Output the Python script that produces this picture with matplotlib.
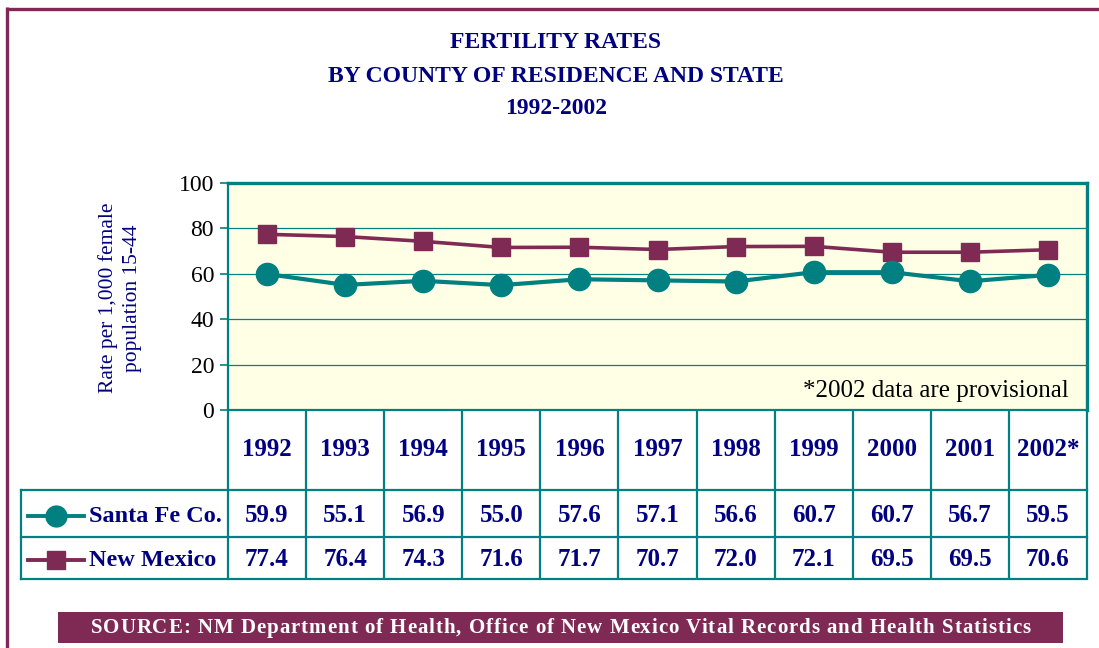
import matplotlib
matplotlib.use("Agg")
import matplotlib.pyplot as plt
import matplotlib.transforms as mtrans
from matplotlib.font_manager import FontProperties

# data
years = ["1992", "1993", "1994", "1995", "1996", "1997", "1998", "1999", "2000", "2001", "2002*"]
santa_fe = [59.9, 55.1, 56.9, 55.0, 57.6, 57.1, 56.6, 60.7, 60.7, 56.7, 59.5]
new_mexico = [77.4, 76.4, 74.3, 71.6, 71.7, 70.7, 72.0, 72.1, 69.5, 69.5, 70.6]
series_names = ["Santa Fe Co.", "New Mexico"]
y_ticks = [0, 20, 40, 60, 80, 100]

title_lines = ["FERTILITY RATES", "BY COUNTY OF RESIDENCE AND STATE", "1992-2002"]
ylabel = "Rate per 1,000 female\npopulation 15-44"
footnote = "*2002 data are provisional"
source = "SOURCE: NM Department of Health, Office of New Mexico Vital Records and Health Statistics"

TEAL = "#008080"
MAROON = "#7F2A55"
NAVY = "#000080"
PLOT_BG = "#FFFFE6"
SERIF = "Liberation Serif"

W, H = 1099, 648
fig = plt.figure(figsize=(W / 100, H / 100), dpi=100)
fig.patch.set_facecolor("white")

# overlay axes in pixel coordinates (y down)
ov = fig.add_axes([0, 0, 1, 1])
ov.set_xlim(0, W)
ov.set_ylim(H, 0)
ov.axis("off")

# plot area in pixels
L, R, T, B = 228, 1087, 183, 410
ax = fig.add_axes([L / W, (H - B) / H, (R - L) / W, (B - T) / H])
ax.set_facecolor(PLOT_BG)
x = list(range(len(years)))
ax.set_xlim(-0.5, len(years) - 0.5)
ax.set_ylim(0, 100)

ax.plot(x, new_mexico, color=MAROON, lw=2.6, marker="s", ms=13.5, zorder=3)
ax.plot(x, santa_fe, color=TEAL, lw=3.0, marker="o", ms=16, zorder=3)

ax.set_yticks(y_ticks)
ax.set_yticklabels([str(v) for v in y_ticks], fontfamily=SERIF, fontsize=17, color="black")
ax.tick_params(axis="y", length=6, width=1.2, color=TEAL, pad=4)
ax.set_xticks([])
ax.grid(axis="y", color=TEAL, lw=0.9)
ax.set_axisbelow(True)
for s, w in [("left", 1.6), ("bottom", 1.6), ("top", 2.4), ("right", 2.4)]:
    ax.spines[s].set_color(TEAL)
    ax.spines[s].set_linewidth(w)

ax.text(0.979, 0.035, footnote, transform=ax.transAxes, ha="right", va="bottom",
        fontfamily=SERIF, fontsize=18, color="black")

# y label
fig.text(120 / W, 1 - 298 / H, ylabel, rotation=90, ha="center", va="center",
         fontfamily=SERIF, fontsize=15.5, color=NAVY, linespacing=1.35)

# title
for i, line in enumerate(title_lines):
    ov.text(556, 43 + 33 * i, line, ha="center", va="center", fontfamily=SERIF,
            fontweight="bold", fontsize=17, color=NAVY)

# table: x from main axes data, y in pixels
tr = mtrans.blended_transform_factory(ax.transData, ov.transData)
row_y = [410, 490, 537, 579]
tl_left = 21
n = len(years)
for k in range(n + 1):
    ov.plot([k - 0.5, k - 0.5], [row_y[0], row_y[-1]], color=TEAL, lw=1.6,
            transform=tr, solid_capstyle="butt")
for yy in row_y[1:]:
    ov.plot([tl_left, R], [yy, yy], color=TEAL, lw=1.6)
ov.plot([tl_left, tl_left], [row_y[1], row_y[-1]], color=TEAL, lw=1.6)

for i, yr in enumerate(years):
    ov.text(i, 450, yr, transform=tr, ha="center", va="center", fontfamily=SERIF,
            fontweight="bold", fontsize=18, color=NAVY)
for vals, yy in [(santa_fe, 516), (new_mexico, 560)]:
    for i, v in enumerate(vals):
        ov.text(i, yy, f"{v:.1f}", transform=tr, ha="center", va="center", fontfamily=SERIF,
                fontweight="bold", fontsize=18, color=NAVY)

# legend cells
for name, col, mk, ms, yy in [(series_names[0], TEAL, "o", 15, 516), (series_names[1], MAROON, "s", 13, 560)]:
    ov.plot([28, 84], [yy, yy], color=col, lw=2.8)
    ov.plot([56], [yy], color=col, marker=mk, ms=ms, ls="none")
    ov.text(89, yy, name, ha="left", va="center", fontfamily=SERIF, fontweight="bold",
            fontsize=17.5, color=NAVY)

# outer frame (top and left)
ov.plot([6, W], [8.5, 8.5], color=MAROON, lw=2.4, solid_capstyle="butt")
ov.plot([6.5, 6.5], [7, H], color=MAROON, lw=2.4, solid_capstyle="butt")

# source box
ov.add_patch(plt.Rectangle((58, 612), 1063 - 58, 31, facecolor=MAROON, edgecolor="none"))
fp = FontProperties(family=SERIF, weight="bold", size=15)
renderer = fig.canvas.get_renderer()
widths = [renderer.get_text_width_height_descent(source[:j], fp, ismath=False)[0] for j in range(len(source) + 1)]
target = 940
extra = (target - widths[-1]) / (len(source) - 1)
x0 = 560.5 - target / 2
for j, ch in enumerate(source):
    ov.text(x0 + widths[j] + extra * j, 628, ch, ha="left", va="center",
            fontproperties=fp, color="white")

fig.savefig("out.png", dpi=100)
